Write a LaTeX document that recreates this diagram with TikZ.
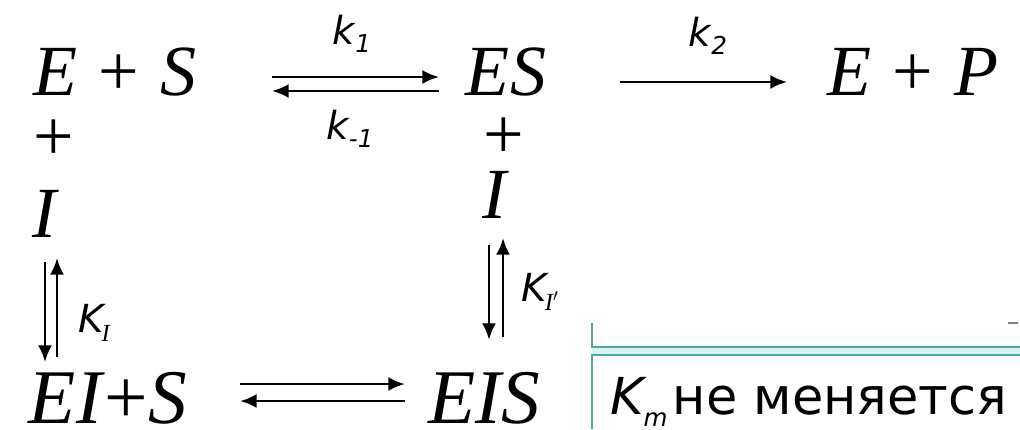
\documentclass[tikz,border=0pt]{standalone}
\usepackage{fontspec}
\setmainfont{Liberation Serif}
\newfontfamily\ratefont{DejaVu Sans}
\usetikzlibrary{arrows.meta}
\definecolor{frameteal}{RGB}{80,170,160}
\definecolor{framefill}{RGB}{214,244,240}

\begin{document}
\begin{tikzpicture}[
    x=0.02cm, y=-0.02cm,
    species/.style={inner sep=0pt, anchor=base, font=\fontsize{41}{43}\selectfont},
    bigspecies/.style={species, font=\fontsize{44}{46}\selectfont},
    plussign/.style={species, text height=23pt, text depth=0pt},
    rate/.style={inner sep=0pt, font=\ratefont\itshape\fontsize{22}{24}\selectfont},
    rxn/.style={line width=1.6pt, -{Latex[length=9.5pt,width=8pt]}}
]
    \useasboundingbox (0,0) rectangle (1020,429);

    % Top row: E + S <=> ES -> E + P
    \node[species] (es) at (115,95) {\textit{E}\hspace{0.3em}+\hspace{0.3em}\textit{S}};
    \node[species] (cplx) at (506,95) {\textit{ES}};
    \node[species] (ep) at (913,95) {\textit{E}\hspace{0.3em}+\hspace{0.3em}\textit{P}};

    % Inhibitor under E and under ES
    \node[plussign] (plus1) at (54,160) {+};
    \node[species] (inh1) at (46,237) {\textit{I}};
    \node[plussign] (plus2) at (504,158) {+};
    \node[species] (inh2) at (496,218) {\textit{I}};

    % Bottom row: EI + S <=> EIS
    \node[bigspecies] (eisub) at (108,423) {\textit{EI}+\textit{S}};
    \node[bigspecies] (eis) at (484,423) {\textit{EIS}};

    % Rate constants
    \node[rate] (k1) at (352,34) {k\raisebox{-0.35ex}{\fontsize{14}{14}\selectfont 1}};
    \node[rate] (km1) at (350,129) {k\raisebox{-0.35ex}{\fontsize{14}{14}\selectfont -1}};
    \node[rate] (k2) at (708,36) {k\raisebox{-0.35ex}{\fontsize{14}{14}\selectfont 2}};
    \node[rate] (ki) at (94,323) {K\kern-1pt\raisebox{-0.45ex}{\fontsize{14}{14}\selectfont\rmfamily\itshape I}};
    \node[rate] (kip) at (540,292) {K\kern-1pt\raisebox{-0.45ex}{\fontsize{14}{14}\selectfont\rmfamily\itshape I$'$}};

    % Arrows, top row
    \draw[rxn] ([xshift=3.14cm,yshift=0.36cm]es.base) -- ([xshift=-1.34cm,yshift=0.36cm]cplx.base);
    \draw[rxn] ([xshift=-1.34cm,yshift=0.08cm]cplx.base) -- ([xshift=3.14cm,yshift=0.08cm]es.base);
    \draw[rxn] ([xshift=2.28cm,yshift=0.26cm]cplx.base) -- ([xshift=-2.52cm,yshift=0.26cm]ep.base);

    % Arrows, inhibitor binding
    \draw[rxn] ([xshift=-0.02cm,yshift=-0.5cm]inh1.base) -- ([xshift=-0.02cm,yshift=1.22cm]inh1.base |- eisub.base);
    \draw[rxn] ([xshift=0.22cm,yshift=1.32cm]inh1.base |- eisub.base) -- ([xshift=0.22cm,yshift=-0.42cm]inh1.base);
    \draw[rxn] ([xshift=-0.14cm,yshift=-0.54cm]inh2.base) -- ([xshift=-0.14cm,yshift=1.66cm]inh2.base |- eis.base);
    \draw[rxn] ([xshift=0.14cm,yshift=1.72cm]inh2.base |- eis.base) -- ([xshift=0.14cm,yshift=-0.4cm]inh2.base);

    % Arrows, bottom row
    \draw[rxn] ([xshift=2.64cm,yshift=0.78cm]eisub.base) -- ([xshift=-1.58cm,yshift=0.78cm]eis.base);
    \draw[rxn] ([xshift=-1.58cm,yshift=0.44cm]eis.base) -- ([xshift=2.64cm,yshift=0.44cm]eisub.base);

    % Note box (cut off)
    \fill[framefill] (592,347) rectangle (1020,355);
    \draw[frameteal, line width=1.3pt] (592,323) -- (592,347) -- (1020,347);
    \draw[frameteal, line width=1.3pt] (1020,355) -- (592,355) -- (592,429);
    \draw[gray, line width=0.8pt] (1008,323) -- (1018,323);
    \node[inner sep=0pt, anchor=base west, font=\ratefont\fontsize{29}{31}\selectfont] (note) at (610,414)
        {\textit{K}\kern-2pt\raisebox{-0.45ex}{\fontsize{14}{14}\selectfont\itshape m}\kern3pt не меняется};

\end{tikzpicture}
\end{document}
